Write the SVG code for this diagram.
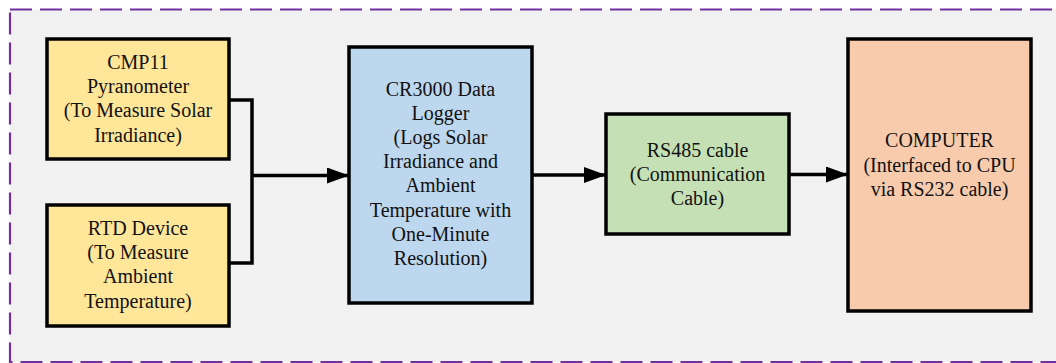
<svg xmlns="http://www.w3.org/2000/svg" width="1056" height="363" viewBox="0 0 1056 363">
<defs>
<style>
.box{stroke:#000;stroke-width:3.5}
.t{font-family:"Liberation Serif","Times New Roman",serif;font-size:20px;fill:#111;text-anchor:middle}
.c{fill:none;stroke:#000;stroke-width:3.5}
</style>
<marker id="ah" markerUnits="userSpaceOnUse" markerWidth="24" markerHeight="18" refX="22" refY="8" orient="auto">
<path d="M0,0 L22,8 L0,16 Z" fill="#000"/>
</marker>
</defs>
<rect x="0" y="0" width="1056" height="363" fill="#fff"/>
<rect id="frame" x="10" y="9.5" width="1070" height="352.5" fill="#F1F1F1" stroke="#7030A0" stroke-width="2.2" stroke-dasharray="22 8"/>
<g id="connectors">
<polyline class="c" points="229,100 252,100 252,263 229,263"/>
<line class="c" x1="252" y1="175.5" x2="349" y2="175.5" marker-end="url(#ah)"/>
<line class="c" x1="532" y1="175" x2="606" y2="175" marker-end="url(#ah)"/>
<line class="c" x1="789" y1="174.5" x2="848" y2="174.5" marker-end="url(#ah)"/>
</g>
<g id="cmp11">
<rect class="box" x="47" y="39" width="182" height="120" fill="#FFE699"/>
<text class="t" x="138" y="69">CMP11</text>
<text class="t" x="138" y="93.2">Pyranometer</text>
<text class="t" x="138" y="117.4">(To Measure Solar</text>
<text class="t" x="138" y="141.6">Irradiance)</text>
</g>
<g id="rtd">
<rect class="box" x="47" y="205" width="182" height="121" fill="#FFE699"/>
<text class="t" x="138" y="235">RTD Device</text>
<text class="t" x="138" y="259.2">(To Measure</text>
<text class="t" x="138" y="283.4">Ambient</text>
<text class="t" x="138" y="307.6">Temperature)</text>
</g>
<g id="logger">
<rect class="box" x="349" y="47" width="183" height="256" fill="#BDD7EE"/>
<text class="t" x="440.5" y="96">CR3000 Data</text>
<text class="t" x="440.5" y="120.1">Logger</text>
<text class="t" x="440.5" y="144.2">(Logs Solar</text>
<text class="t" x="440.5" y="168.3">Irradiance and</text>
<text class="t" x="440.5" y="192.4">Ambient</text>
<text class="t" x="440.5" y="216.5">Temperature with</text>
<text class="t" x="440.5" y="240.6">One-Minute</text>
<text class="t" x="440.5" y="264.7">Resolution)</text>
</g>
<g id="rs485">
<rect class="box" x="606" y="114" width="183" height="120" fill="#C5E0B4"/>
<text class="t" x="697.5" y="157">RS485 cable</text>
<text class="t" x="697.5" y="181">(Communication</text>
<text class="t" x="697.5" y="205">Cable)</text>
</g>
<g id="computer">
<rect class="box" x="848" y="39" width="183" height="272" fill="#F8CBAD"/>
<text class="t" x="939.5" y="147.3">COMPUTER</text>
<text class="t" x="939.5" y="171.5">(Interfaced to CPU</text>
<text class="t" x="939.5" y="195.7">via RS232 cable)</text>
</g>
</svg>
